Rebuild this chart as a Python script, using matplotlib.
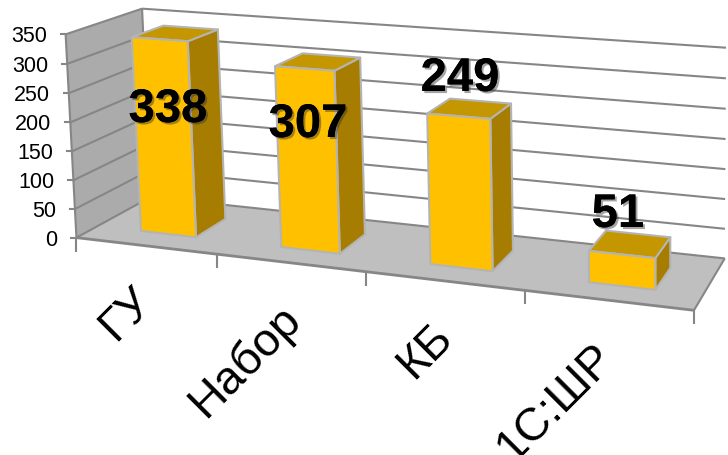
import numpy as np
import matplotlib
matplotlib.use('Agg')
import matplotlib.pyplot as plt
import matplotlib.patheffects as pe
from matplotlib.patches import Polygon

plt.rcParams['font.family'] = ['Liberation Sans', 'DejaVu Sans']

# data
categories = ['ГУ', 'Набор', 'КБ', '1С:ШР']
values = [338, 307, 249, 51]
y_ticks = [0, 50, 100, 150, 200, 250, 300, 350]

# pixel positions of the big numbers
label_xy = [(168, 111), (308, 126), (460, 80), (618, 216)]

# colours
FRONT = '#FFC000'
TOP = '#C49600'
SIDE = '#A67D00'
EDGE = '#B4B4B4'
FLOOR = '#BFBFBF'
WALL = '#ABABAB'
LINE = '#868686'

# box corners (category pos, depth, value) -> pixel, used to fit the camera
world_pts = [(0, 0, 0), (1, 0, 0), (2, 0, 0), (3, 0, 0), (4, 0, 0), (4, 1, 0), (0, 1, 0),
             (0, 0, 350), (0, 1, 350), (4, 1, 350)]
pixel_pts = [(77, 238), (217, 255.5), (366, 273), (524, 292), (694, 311), (725, 259), (150, 198),
             (65, 35), (142.7, 10), (726, 48.7)]


def fit_camera(world, pixel):
    rows = []
    for (x, d, z), (u, v) in zip(world, pixel):
        z = z / 350
        rows.append([x, d, z, 1, 0, 0, 0, 0, -u * x, -u * d, -u * z, -u])
        rows.append([0, 0, 0, 0, x, d, z, 1, -v * x, -v * d, -v * z, -v])
    _, _, vt = np.linalg.svd(np.array(rows))
    return vt[-1].reshape(3, 4)


cam = fit_camera(world_pts, pixel_pts)


def proj(x, d, z):
    p = cam @ np.array([x, d, z / 350, 1.0])
    return p[0] / p[2], p[1] / p[2]


fig = plt.figure(figsize=(7.28, 4.56), dpi=100)
ax = fig.add_axes([0, 0, 1, 1])
ax.set_xlim(0, 728)
ax.set_ylim(456, 0)
ax.axis('off')


def quad(pts, color, edge='none', lw=0, z=1):
    ax.add_patch(Polygon([proj(*p) for p in pts], closed=True, facecolor=color,
                         edgecolor=edge, linewidth=lw, zorder=z, joinstyle='round'))


def seg(a, b, lw=1.5, z=2):
    pa, pb = proj(*a), proj(*b)
    ax.plot([pa[0], pb[0]], [pa[1], pb[1]], color=LINE, lw=lw, zorder=z, solid_capstyle='butt')


# walls and floor
quad([(0, 0, 0), (0, 1, 0), (0, 1, 350), (0, 0, 350)], WALL)
quad([(0, 0, 0), (4, 0, 0), (4, 1, 0), (0, 1, 0)], FLOOR)

for t in y_ticks:
    seg((0, 0, t), (0, 1, t))
    seg((0, 1, t), (4, 1, t))
    px, py = proj(0, 0, t)
    ax.plot([px - 5, px], [py, py], color=LINE, lw=1.5, zorder=2)
    ax.text(px - 19, py + 1.5, str(t), ha='right', va='center', fontsize=15.5, color='black', zorder=5)

seg((0, 0, 0), (0, 0, 350))
seg((0, 1, 0), (0, 1, 350))
seg((0, 0, 0), (4, 0, 0), lw=2)
seg((4, 0, 0), (4, 1, 0))

# category ticks and labels
for i in range(5):
    px, py = proj(i, 0, 0)
    ax.plot([px, px], [py, py + 13], color=LINE, lw=1.5, zorder=2)
label_dx = [-87, -88, -95, -102]
for i, name in enumerate(categories):
    px, py = proj(i + 1, 0, 0)
    ax.text(px + label_dx[i], py + 24, name, rotation=45, rotation_mode='anchor', ha='right', va='top',
            fontsize=33.5, color='black', zorder=5, clip_on=False)

# bars
bar_w = 0.2
d0, d1 = 0.27, 0.70
for i, val in enumerate(values):
    a, b = i + 0.52 - bar_w, i + 0.52 + bar_w
    quad([(b, d0, 0), (b, d1, 0), (b, d1, val), (b, d0, val)], SIDE, EDGE, 1.5, 3)
    quad([(a, d0, val), (b, d0, val), (b, d1, val), (a, d1, val)], TOP, EDGE, 1.5, 3)
    quad([(a, d0, 0), (b, d0, 0), (b, d0, val), (a, d0, val)], FRONT, EDGE, 1.5, 3)

# value labels
shadow = [pe.withSimplePatchShadow(offset=(1.5, -1.5), shadow_rgbFace='#333333', alpha=0.45), pe.Normal()]
for val, (lx, ly) in zip(values, label_xy):
    ax.text(lx, ly, str(val), ha='center', va='center', fontsize=34, fontweight='bold',
            color='black', zorder=6, path_effects=shadow)

fig.savefig('out.png', dpi=100)
